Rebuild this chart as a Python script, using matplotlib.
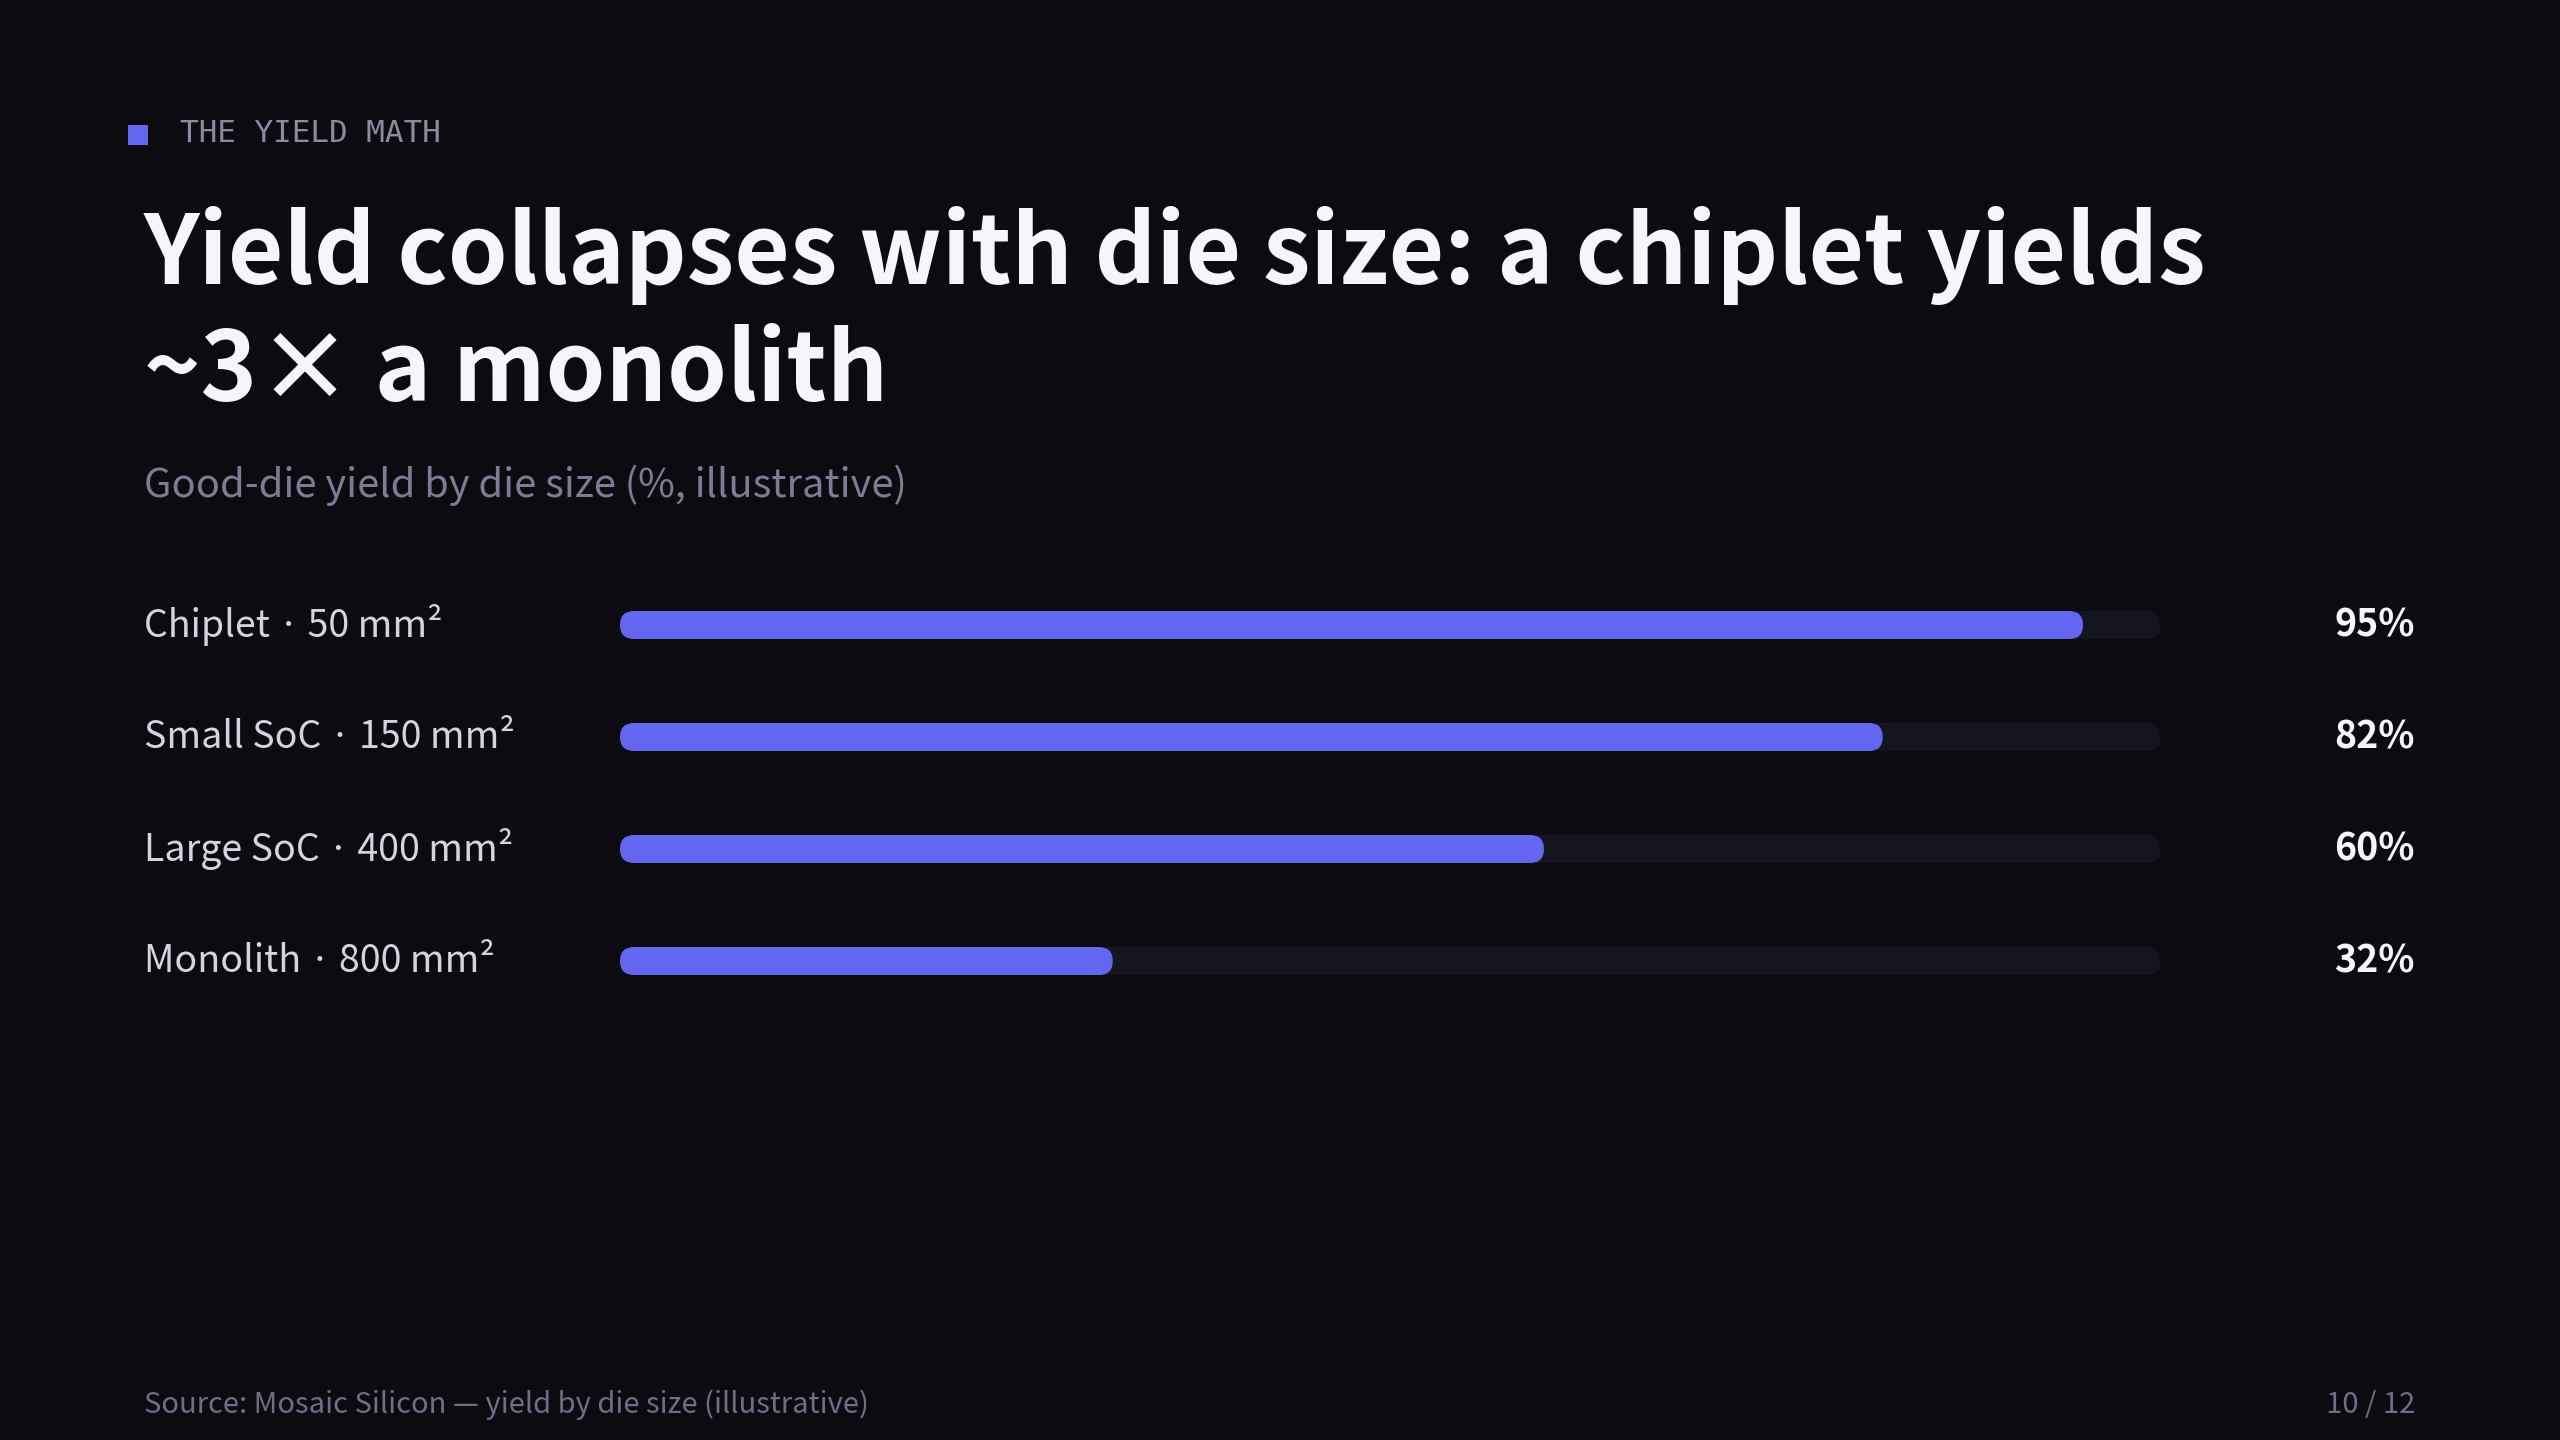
import matplotlib.pyplot as plt
from matplotlib.patches import FancyBboxPatch, Rectangle
from matplotlib.transforms import blended_transform_factory

# data
categories = ["Chiplet · 50 mm²", "Small SoC · 150 mm²", "Large SoC · 400 mm²", "Monolith · 800 mm²"]
yields = [95, 82, 60, 32]
value_labels = ["95%", "82%", "60%", "32%"]

eyebrow = "THE YIELD MATH"
title_lines = ["Yield collapses with die size: a chiplet yields", "~3× a monolith"]
subtitle = "Good-die yield by die size (%, illustrative)"
source = "Source: Mosaic Silicon — yield by die size (illustrative)"
page = "10 / 12"

BG = "#0b0b10"
ACCENT = "#6366f1"
TRACK = "#15151f"
SANS = ["Noto Sans CJK SC", "DejaVu Sans"]
SANS_JP = ["Noto Sans CJK JP", "DejaVu Sans"]

W, H = 2560, 1440
fig = plt.figure(figsize=(W / 100, H / 100), dpi=100, facecolor=BG)


def fx(px):
    return px / W


def fy(px):
    # px measured from the top
    return 1 - px / H


# header
fig.patches.append(Rectangle((fx(128), fy(145)), fx(20), 20 / H, transform=fig.transFigure,
                             facecolor=ACCENT, edgecolor="none"))
fig.text(fx(180), fy(142), eyebrow, family="DejaVu Sans Mono", fontsize=22.3,
         color="#8a8aa0", va="baseline")
fig.text(fx(144), fy(284), title_lines[0], family=SANS, fontsize=69, weight="bold",
         color="#f5f5fa", va="baseline")
fig.text(fx(144), fy(401), title_lines[1], family=SANS, fontsize=69, weight="bold",
         color="#f5f5fa", va="baseline")
fig.text(fx(144), fy(497), subtitle, family=SANS, fontsize=28.7, color="#7c7c96", va="baseline")

# bars
row_h = 112
top = 569
n = len(categories)
ax = fig.add_axes([fx(620), fy(top + row_h * n), fx(2160 - 620), row_h * n / H])
ax.set_facecolor("none")
ax.set_xlim(0, 100)
ax.set_ylim(n - 0.5, -0.5)
ax.axis("off")

bar_h = 28 / row_h
px_x = 1540 / 100  # px per x unit
aspect = (1 / row_h) / (1 / px_x)
rad = (bar_h / 2) / aspect

for i, (cat, v, lab) in enumerate(zip(categories, yields, value_labels)):
    for val, col in [(100, TRACK), (v, ACCENT)]:
        ax.add_patch(FancyBboxPatch((0, i - bar_h / 2), val, bar_h,
                                    boxstyle=f"round,pad=0,rounding_size={rad}",
                                    mutation_aspect=aspect, facecolor=col, edgecolor="none"))

trans = blended_transform_factory(fig.transFigure, ax.transData)
for i, (cat, lab) in enumerate(zip(categories, value_labels)):
    ax.text(fx(144), i, cat, transform=trans, family=SANS_JP, fontsize=27, color="#d4d4e0",
            va="center", ha="left")
    ax.text(fx(2415), i, lab, transform=trans, family=SANS, fontsize=27, weight="bold",
            color="#f5f5fa", va="center", ha="right")

# footer
fig.text(fx(144), fy(1413), source, family=SANS, fontsize=21, color="#6e6e88", va="baseline")
fig.text(fx(2415), fy(1413), page, family=SANS, fontsize=21, color="#6e6e88", va="baseline",
         ha="right")

fig.savefig("out.png", dpi=100, facecolor=BG)
